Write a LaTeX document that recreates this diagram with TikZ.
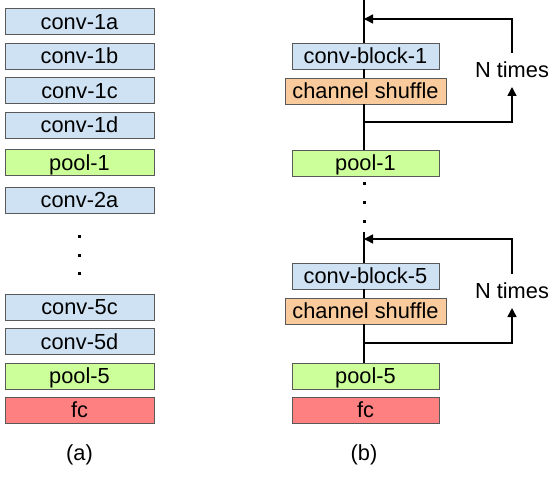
\documentclass[tikz,border=0pt]{standalone}
\usepackage{fontspec}
\setmainfont{Liberation Sans}
\usetikzlibrary{arrows.meta}

\definecolor{convblue}{RGB}{207,226,243}
\definecolor{poolgreen}{RGB}{204,255,153}
\definecolor{shuforange}{RGB}{249,203,156}
\definecolor{fcred}{RGB}{255,128,128}

\begin{document}
\begin{tikzpicture}[y=1pt, x=1pt, yscale=-1, inner sep=0pt, outer sep=0pt,
  font=\fontsize{21.8}{26}\selectfont,
  layer/.style={draw=black!65, line width=0.8pt, minimum width=149pt, minimum height=26pt,
    text height=15.5pt, text depth=0pt},
  convbox/.style={layer, fill=convblue},
  poolbox/.style={layer, fill=poolgreen},
  shufbox/.style={layer, fill=shuforange, minimum width=161pt},
  fcbox/.style={layer, fill=fcred},
  dotmark/.style={fill=black, minimum size=3pt},
  flow/.style={draw=black, line width=1.5pt},
  loop/.style={draw=black, line width=1.5pt, -{Triangle[length=9pt,width=9pt]}}]
\path[use as bounding box] (0,0) rectangle (552,500);

% (a) plain stack
\node[convbox] (conv1a) at (79.5,21.5) {conv-1a};
\node[convbox] (conv1b) at (79.5,56) {conv-1b};
\node[convbox] (conv1c) at (79.5,90.5) {conv-1c};
\node[convbox] (conv1d) at (79.5,125) {conv-1d};
\node[poolbox] (poolA1) at (79.5,162.5) {pool-1};
\node[convbox] (conv2a) at (79.5,200) {conv-2a};
\node[dotmark] (dotA1) at (79.5,236) {};
\node[dotmark] (dotA2) at (79.5,255) {};
\node[dotmark] (dotA3) at (79.5,273) {};
\node[convbox] (conv5c) at (79.5,307) {conv-5c};
\node[convbox] (conv5d) at (79.5,341.5) {conv-5d};
\node[poolbox] (poolA5) at (79.5,376) {pool-5};
\node[fcbox] (fcA) at (79.5,410) {fc};
\node (labelA) at (79.5,455) {(a)};

% (b) blocks with shuffle
\node[convbox, minimum width=147pt] (block1) at (365.5,56) {conv-block-1};
\node[shufbox] (shuf1) at (365.5,91) {channel shuffle};
\node[poolbox, minimum width=147pt] (poolB1) at (365.5,163) {pool-1};
\node[dotmark] (dotB1) at (364,184) {};
\node[dotmark] (dotB2) at (364,203) {};
\node[dotmark] (dotB3) at (364,222) {};
\node[convbox, minimum width=147pt] (block5) at (365.5,276) {conv-block-5};
\node[shufbox] (shuf5) at (365.5,311) {channel shuffle};
\node[poolbox, minimum width=147pt] (poolB5) at (365.5,376) {pool-5};
\node[fcbox, minimum width=147pt] (fcB) at (365.5,410) {fc};
\node (labelB) at (364,455) {(b)};

\node[minimum height=34pt] (times1) at (512,70) {N times};
\node[minimum height=34pt] (times5) at (512,291) {N times};

\coordinate (in1) at (364,0);
\coordinate (back1) at (364,19);
\coordinate (out1) at (364,122);
\coordinate (in5) at (364,232);
\coordinate (back5) at (364,239);
\coordinate (out5) at (364,343);

\path[flow] (in1) -- (block1.north -| in1);
\path[flow] (block1.south -| in1) -- (shuf1.north -| in1);
\path[flow] (shuf1.south -| in1) -- (poolB1.north -| in1);
\path[flow] (in5) -- (block5.north -| in5);
\path[flow] (block5.south -| in5) -- (shuf5.north -| in5);
\path[flow] (shuf5.south -| in5) -- (poolB5.north -| in5);

\path[loop] (out1) -| (times1.south);
\path[loop] (times1.north) |- (back1);
\path[loop] (out5) -| (times5.south);
\path[loop] (times5.north) |- (back5);

\end{tikzpicture}
\end{document}
